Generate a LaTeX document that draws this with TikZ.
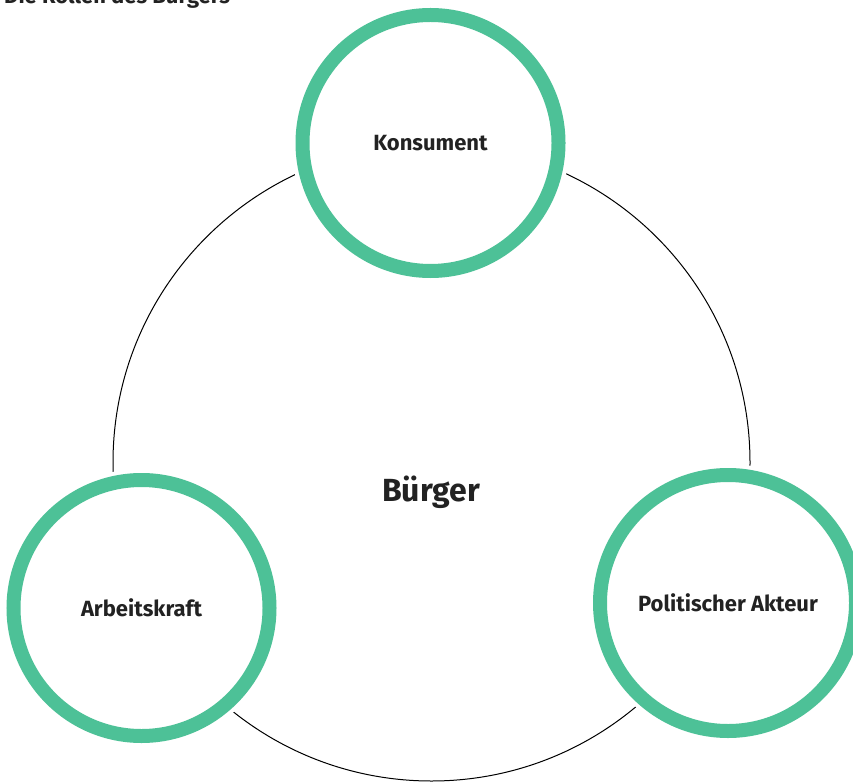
\documentclass[tikz,border=0pt]{standalone}
\usepackage{fontspec}
\setmainfont{Fira Sans}
\definecolor{ringgreen}{HTML}{4DC197}
\definecolor{txt}{HTML}{222222}
\begin{document}
\begin{tikzpicture}[x=1pt,y=-1pt,
  role/.style={circle,minimum size=256pt,inner sep=0pt,fill=white,draw=ringgreen,line width=14pt,
    font=\bfseries\fontsize{22}{26}\selectfont,text=txt,
    preaction={draw=white,line width=22pt}},
  ]
\useasboundingbox (0,0) rectangle (853,783);
\node[circle,minimum size=637pt,inner sep=0pt,draw=black,line width=1pt] (big) at (431.5,462.5) {};
\node[role] (kon) at (430.5,143) {Konsument};
\node[role] (arb) at (141.5,608) {Arbeitskraft};
\node[role] (pol) at (728,603) {Politischer Akteur};
\node[font=\bfseries\fontsize{32}{38}\selectfont,text=txt] (buerger) at (431,492) {Bürger};
\node[anchor=base west,font=\bfseries\fontsize{22}{26}\selectfont,text=txt,inner sep=0pt] (title) at (4,4) {Die Rollen des Bürgers};
\end{tikzpicture}
\end{document}
